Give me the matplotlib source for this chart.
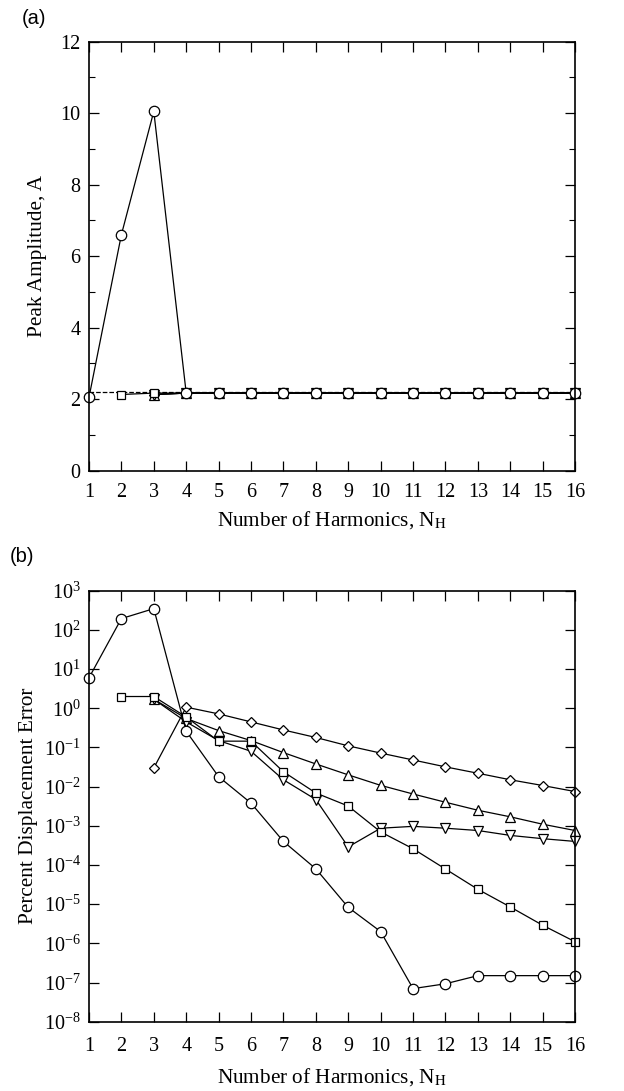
import numpy as np
import matplotlib
matplotlib.use("Agg")
import matplotlib.pyplot as plt
from matplotlib.ticker import LogLocator, NullLocator, MultipleLocator

plt.rcParams['font.family'] = ['Liberation Serif', 'DejaVu Serif']
plt.rcParams['mathtext.fontset'] = 'stix'

# harmonics
nh = np.arange(1, 17)

# (a) peak amplitude
amp_circ = [2.05, 6.6, 10.05] + [2.17] * 13
amp_sq = [2.13] + [2.17] * 14
amp_other = [2.13] + [2.17] * 13
amp_exact = 2.2

# (b) percent displacement error
err_circ = [6.0, 195, 350, 0.26, 0.018, 0.0038, 4.0e-4, 8.0e-5, 8.3e-6, 2.0e-6,
            7.0e-8, 9.3e-8, 1.5e-7, 1.5e-7, 1.5e-7, 1.5e-7]
err_sq = [2.0, 2.0, 0.6, 0.145, 0.145, 0.024, 0.0069, 0.0032, 7.0e-4, 2.6e-4,
          7.9e-5, 2.4e-5, 8.5e-6, 2.9e-6, 1.1e-6]
err_dia = [0.03, 1.07, 0.72, 0.45, 0.28, 0.18, 0.11, 0.072, 0.048, 0.032,
           0.022, 0.015, 0.0107, 0.0075]
err_up = [1.7, 0.55, 0.27, 0.15, 0.074, 0.038, 0.020, 0.0108, 0.0065, 0.004,
          0.0025, 0.0017, 0.0011, 7.6e-4]
err_dn = [1.7, 0.45, 0.15, 0.08, 0.015, 0.0047, 2.9e-4, 8.7e-4, 9.7e-4, 8.7e-4,
          7.6e-4, 5.7e-4, 4.7e-4, 4.0e-4]

fig = plt.figure(figsize=(6.24, 10.91), dpi=100)
ax1 = fig.add_axes([0.1426, 0.5686, 0.779, 0.3932])
ax2 = fig.add_axes([0.1426, 0.0635, 0.779, 0.3950])

mk = dict(color='black', lw=0.9, mfc='white', mec='black', mew=0.9, ms=7.5,
          clip_on=False)

# panel (a)
ax1.plot([1, 16], [amp_exact, amp_exact], '--', color='black', lw=0.9)
ax1.plot(nh[2:], amp_other, marker='D', **{**mk, 'ms': 5.5})
ax1.plot(nh[2:], amp_other, marker='^', **mk)
ax1.plot(nh[2:], amp_other, marker='v', **mk)
ax1.plot(nh[1:], amp_sq, marker='s', **{**mk, 'ms': 6})
ax1.plot(nh, amp_circ, marker='o', **mk)
ax1.set_xlim(1, 16)
ax1.set_ylim(0, 12)
ax1.set_yticks(np.arange(0, 13, 2))
ax1.yaxis.set_minor_locator(MultipleLocator(1))
ax1.set_ylabel('Peak Amplitude, A', fontsize=15.3, labelpad=10)
ax1.set_xlabel('Number of Harmonics, N$_\\mathrm{H}$', fontsize=15.3, labelpad=5)

# panel (b)
ax2.semilogy(nh[2:], err_dia, marker='D', **{**mk, 'ms': 5.5})
ax2.semilogy(nh[2:], err_up, marker='^', **mk)
ax2.semilogy(nh[2:], err_dn, marker='v', **mk)
ax2.semilogy(nh[1:], err_sq, marker='s', **{**mk, 'ms': 6})
ax2.semilogy(nh, err_circ, marker='o', **mk)
ax2.set_xlim(1, 16)
ax2.set_ylim(1e-8, 1e3)
ax2.yaxis.set_major_locator(LogLocator(base=10, numticks=20))
ax2.yaxis.set_minor_locator(NullLocator())
ax2.set_ylabel('Percent Displacement Error', fontsize=15.3, labelpad=4)
ax2.set_xlabel('Number of Harmonics, N$_\\mathrm{H}$', fontsize=15.3, labelpad=7)

for ax in (ax1, ax2):
    ax.set_xticks(nh)
    ax.tick_params(which='both', direction='in', top=True, right=True, labelsize=14.5)
    ax.tick_params(which='major', length=7, width=0.9, pad=6)
    ax.tick_params(which='minor', length=4, width=0.8)
    for s in ax.spines.values():
        s.set_linewidth(1.2)
ax1.tick_params(axis='x', which='major', pad=9)
ax2.tick_params(axis='x', which='major', pad=11)

fig.text(0.035, 0.983, '(a)', fontsize=14.5, family='Liberation Sans', va='center')
fig.text(0.015, 0.4895, '(b)', fontsize=14.5, family='Liberation Sans', va='center')

fig.savefig('out.png', dpi=100)
